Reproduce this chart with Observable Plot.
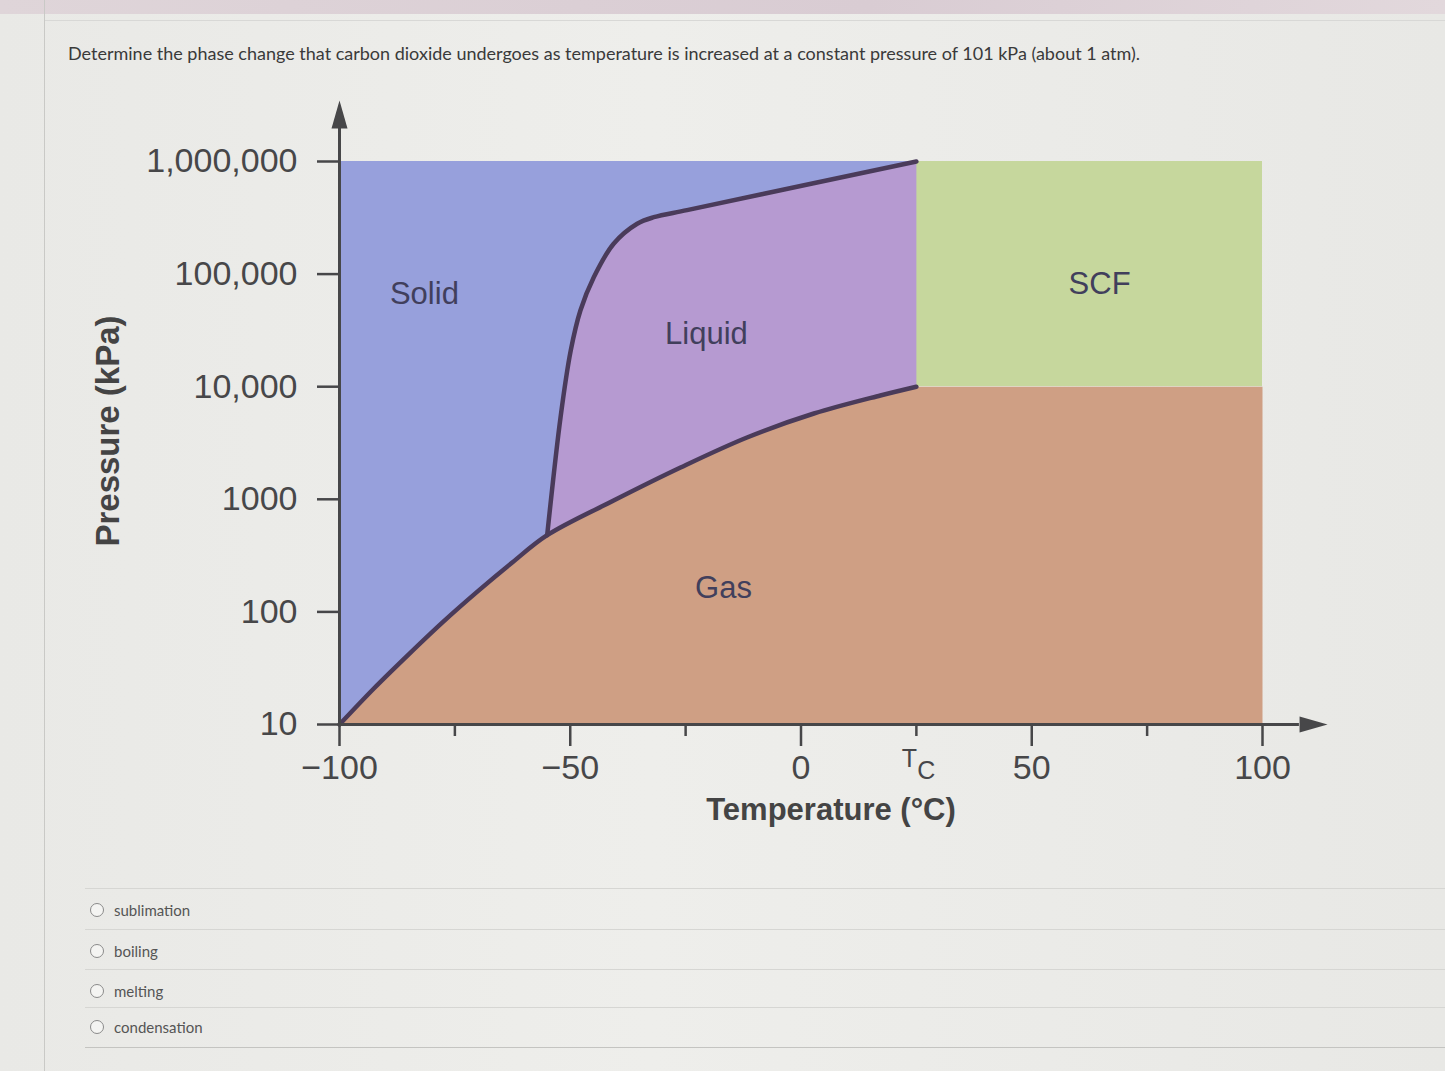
<!DOCTYPE html>
<html>
<head>
<meta charset="utf-8">
<script src="https://cdn.jsdelivr.net/npm/d3@7"></script>
<script src="https://cdn.jsdelivr.net/npm/@observablehq/plot@0.6"></script>
<style>
  html, body { margin: 0; padding: 0; width: 1445px; height: 1071px; overflow: hidden; background: #ebebe8; }
  #page { position: relative; width: 1445px; height: 1071px; background: linear-gradient(90deg, #e9e9e6 0%, #eeeeeb 45%, #e8e8e5 100%); }
  #topstrip { position: absolute; left: 0; top: 0; width: 1445px; height: 14px; background: linear-gradient(90deg, #dfd5d9, #d9ccd3 60%, #e2d8dc); }
  #topline { position: absolute; left: 44px; top: 20px; width: 1401px; height: 1px; background: #d8d8d6; }
  #vline { position: absolute; left: 44px; top: 0; width: 1px; height: 1071px; background: #c9c9c6; }
  #q { position: absolute; left: 68px; top: 42px; font-family: Lato, "Open Sans", sans-serif; font-size: 18px; color: #3a3a3a; white-space: nowrap; }
  #chart { position: absolute; left: 0; top: 80px; }
  .sep { position: absolute; left: 85px; width: 1360px; height: 1px; background: #d6d6d3; }
  .opt { position: absolute; left: 90px; font-family: Lato, "Open Sans", sans-serif; font-size: 15px; color: #555; display: flex; align-items: center; }
  .opt .radio { width: 12px; height: 12px; border: 1.5px solid #8a8a8a; border-radius: 50%; margin-right: 10px; background: #f4f4f2; }
</style>
</head>
<body>
<div id="page">
  <div id="topstrip"></div>
  <div id="topline"></div>
  <div id="vline"></div>
  <div id="q">Determine the phase change that carbon dioxide undergoes as temperature is increased at a constant pressure of 101 kPa (about 1 atm).</div>
  <div id="chart"></div>
  <div class="sep" style="top:888px"></div>
  <div class="sep" style="top:929px"></div>
  <div class="sep" style="top:969px"></div>
  <div class="sep" style="top:1007px"></div>
  <div class="sep" style="top:1047px; background:#c4c4c1"></div>
  <div id="opts"></div>
</div>
<script>
// ---- data ----
const xMin = -100, xMax = 100;        // temperature domain (°C)
const pMin = 10, pMax = 1000000;      // pressure domain (kPa)
const Tc = 25;                         // critical temperature position
const Pc = 10000;                      // critical pressure

const sublimationT = [-100, -92.5, -85, -77.5, -70, -62.5, -55];
const sublimationP = [10, 21, 42, 82, 153, 276, 480];

const meltingT = [-55, -52.1, -49.9, -47.8, -44.9, -40.6, -35.5, -31.9, -24.7, 2.7, 25];
const meltingP = [480, 5360, 20900, 47500, 93700, 186000, 280000, 320000, 370000, 640000, 1000000];

const vaporT = [-55, -40.6, -26.1, -11.7, 2.8, 17.2, 25];
const vaporP = [480, 975, 1915, 3540, 5780, 8360, 10000];

const regionNames = ["Solid", "Liquid", "SCF", "Gas"];
const regionT = [-81.6, -20.5, 64.7, -16.8];
const regionP = [66400, 29600, 81300, 163];

const yTickValues = [10, 100, 1000, 10000, 100000, 1000000];
const yTickLabels = ["10", "100", "1000", "10,000", "100,000", "1,000,000"];
const xTickValues = [-100, -50, 0, 50, 100];
const xTickLabels = ["\u2212100", "\u221250", "0", "50", "100"];
const xMinorTicks = [-75, -25, 25, 75];

const yArrowTip = 3480000, yArrowLineEnd = 2200000;
const xArrowTip = 114.1, xArrowLineEnd = 108;

const options = ["sublimation", "boiling", "melting", "condensation"];

// ---- build tables ----
const zip = (T, P) => T.map((t, i) => ({t, p: P[i]}));
const sub = zip(sublimationT, sublimationP);
const melt = zip(meltingT, meltingP);
const vap = zip(vaporT, vaporP);

const liquidPoly = [...melt, {t: Tc, p: Pc}, ...vap.slice().reverse()];
const gasPoly = [...sub, ...vap.slice(1), {t: xMax, p: Pc}, {t: xMax, p: pMin}];
const subVap = [...sub, ...vap.slice(1)];
const regions = regionNames.map((name, i) => ({name, t: regionT[i], p: regionP[i]}));
const yLabel = new Map(yTickValues.map((v, i) => [v, yTickLabels[i]]));
const xLabel = new Map(xTickValues.map((v, i) => [v, xTickLabels[i]]));

const arrowHead = {
  draw(ctx) { ctx.moveTo(0, 0); ctx.lineTo(-8, 28); ctx.lineTo(8, 28); ctx.closePath(); }
};

const axisColor = "#474749";
const lineColor = "#4a3b5a";
const font = "'Liberation Sans', Arial, Helvetica, sans-serif";

const chart = Plot.plot({
  width: 1445,
  height: 770,
  marginLeft: 339,
  marginRight: 183,
  marginTop: 81,
  marginBottom: 126,
  x: {domain: [xMin, xMax]},
  y: {type: "log", domain: [pMin, pMax]},
  style: {background: "transparent", fontFamily: font, overflow: "visible"},
  marks: [
    // solid (base)
    Plot.rect([{x1: xMin, x2: Tc, y1: pMin, y2: pMax}], {x1: "x1", x2: "x2", y1: "y1", y2: "y2", fill: "#97a0dc"}),
    // supercritical fluid
    Plot.rect([{x1: Tc, x2: xMax, y1: Pc, y2: pMax}], {x1: "x1", x2: "x2", y1: "y1", y2: "y2", fill: "#c6d79d"}),
    // liquid
    Plot.line(liquidPoly, {x: "t", y: "p", fill: "#b69ad1", stroke: "none", curve: "linear"}),
    // gas
    Plot.line(gasPoly, {x: "t", y: "p", fill: "#cf9f84", stroke: "none", curve: "linear"}),
    // phase boundaries
    Plot.line(subVap, {x: "t", y: "p", stroke: lineColor, strokeWidth: 4.5, curve: "catmull-rom"}),
    Plot.line(melt, {x: "t", y: "p", stroke: lineColor, strokeWidth: 4.5, curve: "catmull-rom"}),
    // region labels
    Plot.text(regions, {x: "t", y: "p", text: "name", fontSize: 31, fill: "#413f5c"}),
    // axes lines with arrows
    Plot.ruleX([xMin], {y1: pMin, y2: yArrowLineEnd, stroke: axisColor, strokeWidth: 3}),
    Plot.ruleY([pMin], {x1: xMin, x2: xArrowLineEnd, stroke: axisColor, strokeWidth: 3}),
    Plot.dot([{t: xMin, p: yArrowTip}], {x: "t", y: "p", symbol: arrowHead, r: 5, fill: axisColor, stroke: null}),
    Plot.dot([{t: xArrowTip, p: pMin}], {x: "t", y: "p", symbol: arrowHead, r: 5, rotate: 90, fill: axisColor, stroke: null}),
    // ticks
    Plot.axisY(yTickValues, {anchor: "left", label: null, tickSize: 22, tickPadding: 20, strokeWidth: 2.5, fontSize: 34, color: axisColor, tickFormat: d => yLabel.get(d)}),
    Plot.axisX(xTickValues, {anchor: "bottom", label: null, tickSize: 22, tickPadding: 8, strokeWidth: 2.5, fontSize: 34, color: axisColor, tickFormat: d => xLabel.get(d)}),
    Plot.axisX(xMinorTicks, {anchor: "bottom", label: null, tickSize: 12, strokeWidth: 2.5, color: axisColor, tickFormat: () => ""}),
    // T_C label
    Plot.text([Tc], {x: d => d, frameAnchor: "bottom", lineAnchor: "middle", textAnchor: "middle", text: () => "T", dx: -7, dy: 34, fontSize: 25, fill: axisColor}),
    Plot.text([Tc], {x: d => d, frameAnchor: "bottom", lineAnchor: "middle", textAnchor: "middle", text: () => "C", dx: 10, dy: 46, fontSize: 25, fill: axisColor}),
    // axis titles
    Plot.text(["Temperature (°C)"], {frameAnchor: "bottom", lineAnchor: "middle", textAnchor: "middle", text: d => d, dx: 30, dy: 86, fontSize: 31, fontWeight: "bold", fill: "#444"}),
    Plot.text(["Pressure (kPa)"], {frameAnchor: "left", lineAnchor: "middle", textAnchor: "middle", text: d => d, rotate: -90, dx: -231, dy: -12, fontSize: 33, fontWeight: "bold", fill: "#444"})
  ]
});
document.getElementById("chart").appendChild(chart);

// answer options
const optTops = [901, 942, 982, 1018];
const optsDiv = document.getElementById("opts");
options.forEach((o, i) => {
  const d = document.createElement("div");
  d.className = "opt";
  d.style.top = optTops[i] + "px";
  d.innerHTML = '<span class="radio"></span><span></span>';
  d.lastChild.textContent = o;
  optsDiv.appendChild(d);
});
</script>
</body>
</html>
